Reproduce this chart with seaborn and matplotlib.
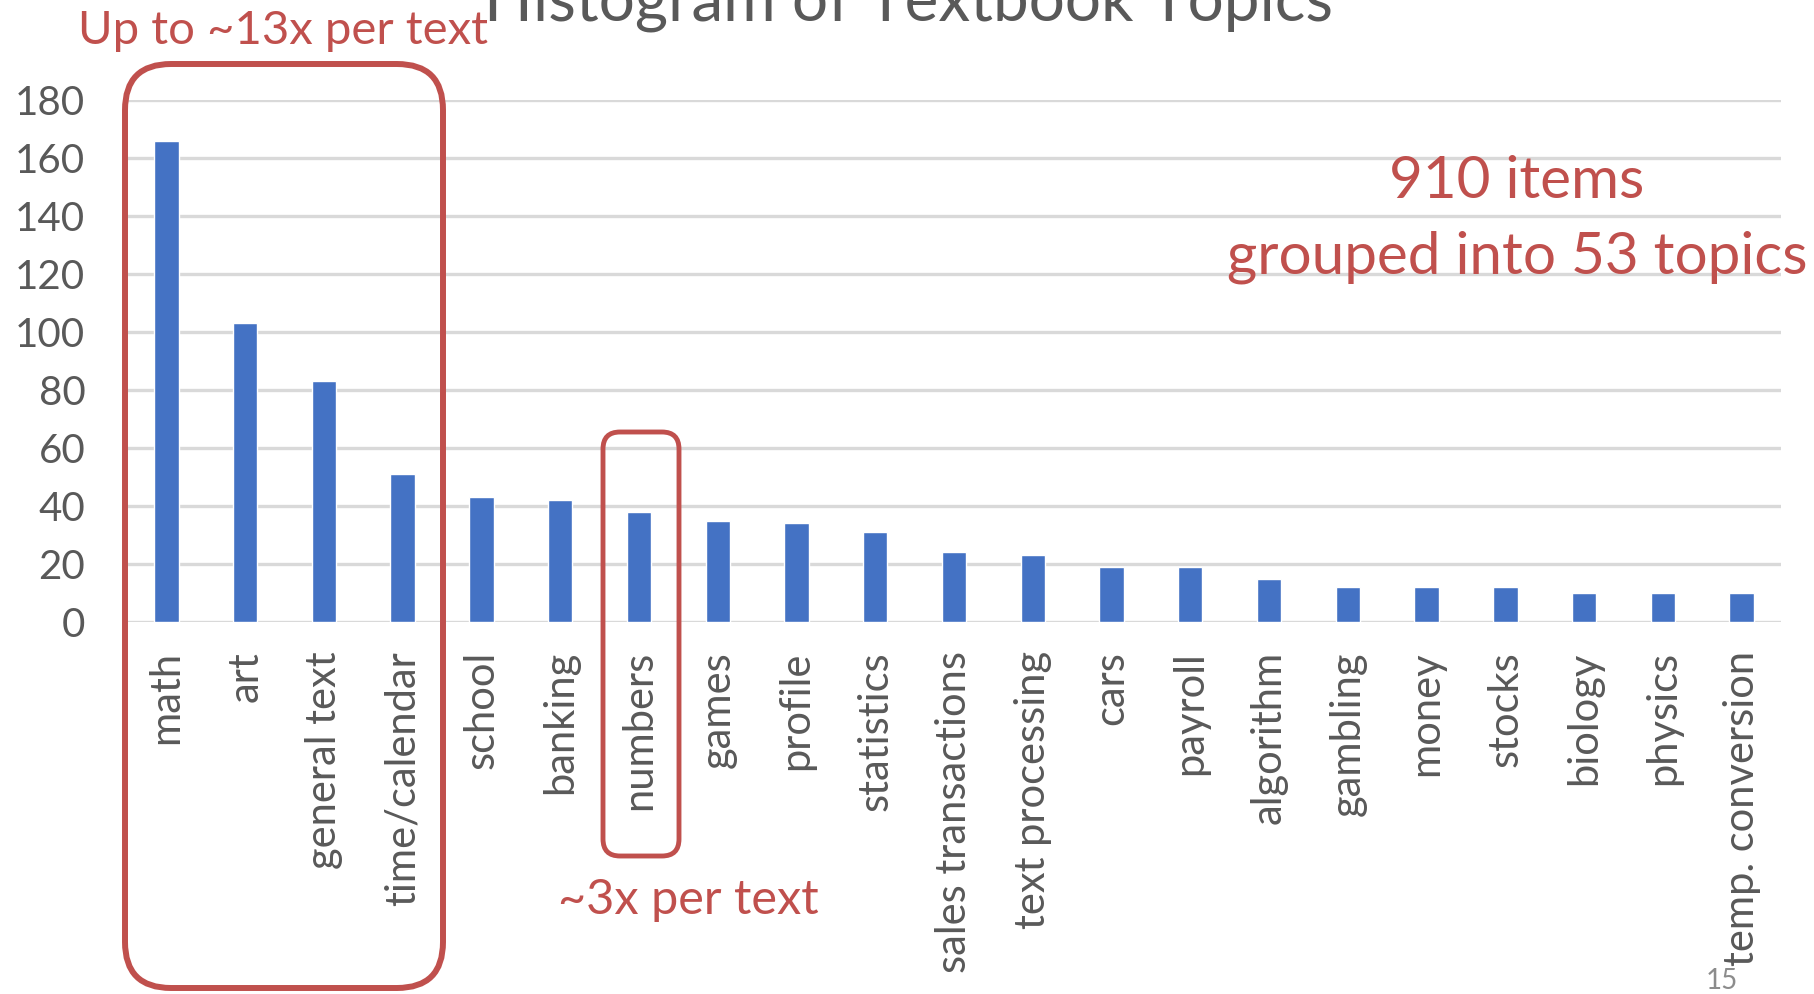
import matplotlib
matplotlib.use("Agg")
import matplotlib.pyplot as plt
from matplotlib.patches import FancyBboxPatch
from matplotlib.transforms import IdentityTransform
import seaborn as sns
import pandas as pd

topics = ["math", "art", "general text", "time/calendar", "school", "banking",
          "numbers", "games", "profile", "statistics", "sales transactions",
          "text processing", "cars", "payroll", "algorithm", "gambling",
          "money", "stocks", "biology", "physics", "temp. conversion"]
counts = [166, 103, 83, 51, 43, 42, 38, 35, 34, 31, 24, 23, 19, 19, 15, 12,
          12, 12, 10, 10, 10]
y_ticks = [0, 20, 40, 60, 80, 100, 120, 140, 160, 180]

title = "Histogram of Textbook Topics"
note_left = "Up to ~13x per text"
note_mid = "~3x per text"
note_right1 = "910 items"
note_right2 = "grouped into 53 topics"
page_no = "15"

sns.set_theme(style="white")
plt.rcParams["font.family"] = ["Lato", "DejaVu Sans"]

W, H = 1814, 994
fig = plt.figure(figsize=(W / 100, H / 100), dpi=100)
fig.patch.set_facecolor("white")
ax = fig.add_axes([127 / W, 372 / H, (1781 - 127) / W, (894 - 372) / H])

df = pd.DataFrame({"topic": topics, "count": counts})
sns.barplot(data=df, x="topic", y="count", color="#4472c4", saturation=1,
            width=0.31, ax=ax, zorder=3)

ax.set_xlim(-0.5, len(topics) - 0.5)
ax.set_ylim(0, 180)
ax.set_yticks(y_ticks)
ax.set_yticklabels([str(v) for v in y_ticks])
ax.set_xlabel("")
ax.set_ylabel("")
for s in ax.spines.values():
    s.set_visible(False)
ax.grid(axis="y", color="#d9d9d9", linewidth=2.4, zorder=0)
ax.set_axisbelow(True)
ax.tick_params(axis="y", length=0, pad=30, labelsize=29, labelcolor="#595959")
ax.tick_params(axis="x", length=0, pad=21, labelsize=30, labelcolor="#595959",
               labelrotation=90)
for lbl in ax.get_yticklabels():
    lbl.set_clip_on(False)

fig.text(908 / W, (H - 20) / H, title, ha="center", va="baseline",
         fontsize=46, color="#595959")

red = "#c0504d"
fig.text(283 / W, (H - 31) / H, note_left, ha="center", va="center",
         fontsize=34, color=red)
fig.text(688 / W, (H - 900) / H, note_mid, ha="center", va="center",
         fontsize=35, color=red)
fig.text(1517 / W, (H - 182) / H, note_right1, ha="center", va="center",
         fontsize=42, color=red)
fig.text(1517 / W, (H - 257) / H, note_right2, ha="center", va="center",
         fontsize=42, color=red)
fig.text(1722 / W, (H - 981) / H, page_no, ha="center", va="center",
         fontsize=20, color="#8c8c8c")

box1 = FancyBboxPatch((125, 6), 443 - 125, 930 - 6,
                      boxstyle="round,pad=0,rounding_size=46",
                      transform=IdentityTransform(), fill=False,
                      edgecolor=red, linewidth=4.3, zorder=5)
box2 = FancyBboxPatch((603, 138), 679 - 603, 562 - 138,
                      boxstyle="round,pad=0,rounding_size=17",
                      transform=IdentityTransform(), fill=False,
                      edgecolor=red, linewidth=3.5, zorder=5)
fig.patches.extend([box1, box2])

fig.savefig("out.png", dpi=100)
